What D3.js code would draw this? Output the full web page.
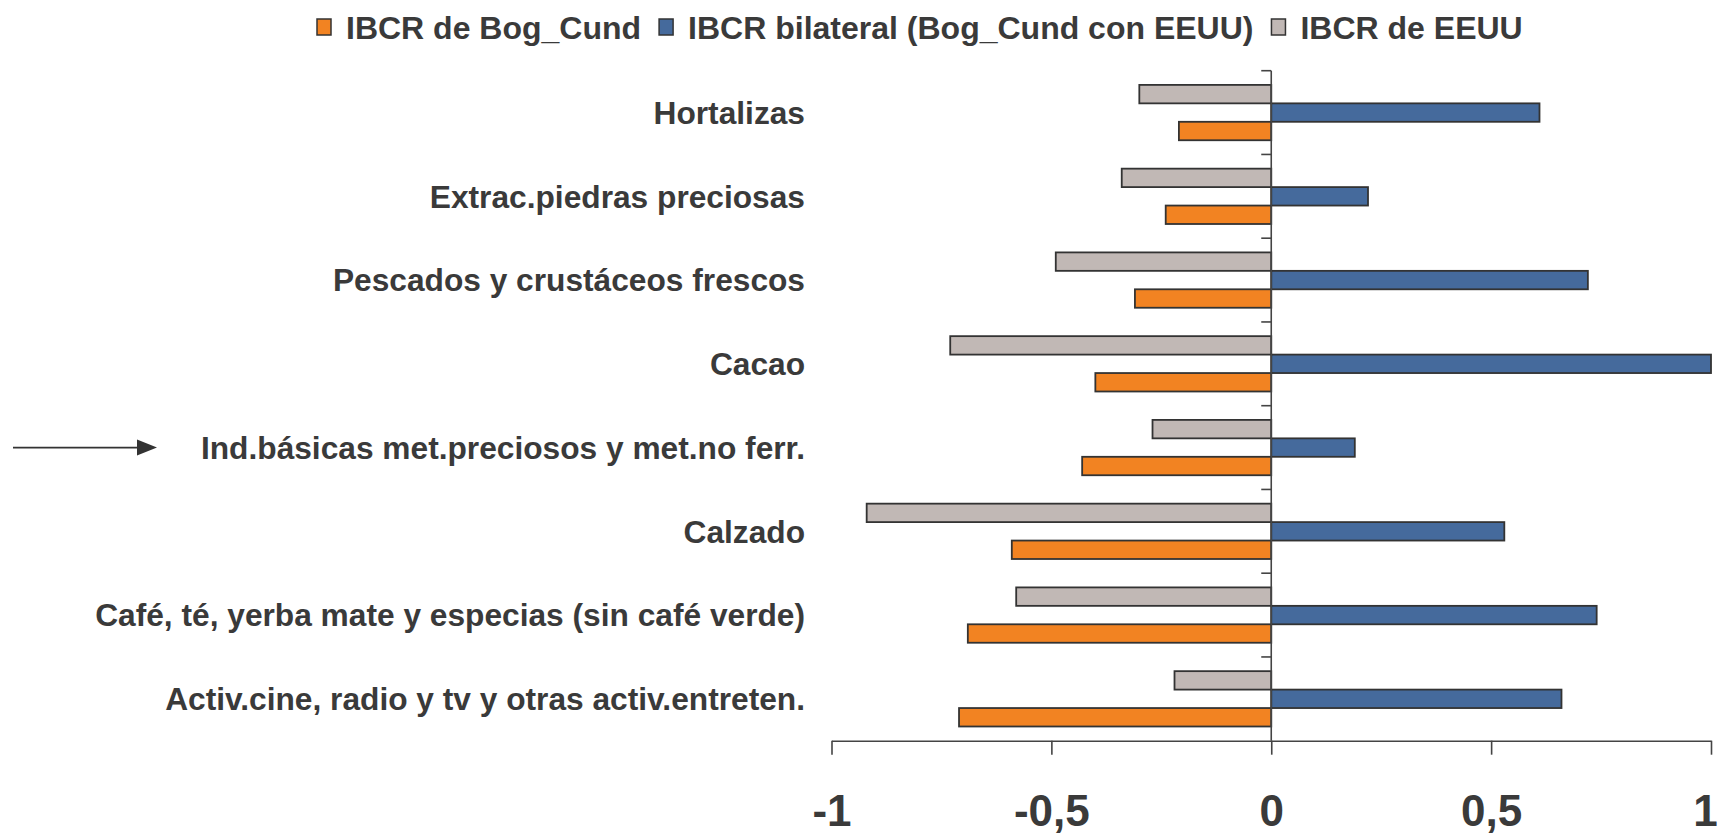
<!DOCTYPE html>
<html lang="es">
<head>
<meta charset="utf-8" />
<script src="https://d3js.org/d3.v7.min.js"></script>
<style>
  body { margin: 0; background: #fff; }
  svg text { font-family: "Liberation Sans", Arial, sans-serif; font-weight: bold; fill: #3a3a3a; }
  .bar { stroke: #333; stroke-width: 1.8px; }
  .axis path, .axis line { stroke: #444; stroke-width: 1.6px; }
</style>
</head>
<body>
<svg width="1722" height="835"></svg>
<script>
var categories = [
  "Hortalizas",
  "Extrac.piedras preciosas",
  "Pescados y crustáceos frescos",
  "Cacao",
  "Ind.básicas met.preciosos y met.no ferr.",
  "Calzado",
  "Café, té, yerba mate y especias (sin café verde)",
  "Activ.cine, radio y tv y otras activ.entreten."
];
var seriesNames = ["IBCR de Bog_Cund", "IBCR bilateral (Bog_Cund con EEUU)", "IBCR de EEUU"];
var seriesColors = ["#f28322", "#456a9c", "#c1b8b5"];
var ibcrBogCund = [-0.21, -0.24, -0.31, -0.40, -0.43, -0.59, -0.69, -0.71];
var ibcrBilateral = [0.61, 0.22, 0.72, 1.0, 0.19, 0.53, 0.74, 0.66];
var ibcrEEUU = [-0.30, -0.34, -0.49, -0.73, -0.27, -0.92, -0.58, -0.22];
var xTicks = [-1, -0.5, 0, 0.5, 1];
var highlighted = "Ind.básicas met.preciosos y met.no ferr.";

var svg = d3.select("svg");
var seriesValues = [ibcrBogCund, ibcrBilateral, ibcrEEUU];

var x = d3.scaleLinear().domain([-1, 1]).range([831.5, 1711]);
var y = d3.scaleBand().domain(categories).range([70.7, 740.7]);
// bar order inside each band, top to bottom: EEUU, bilateral, Bog_Cund
var sub = d3.scaleBand().domain([2, 1, 0]).range([0, y.bandwidth()]).paddingInner(0).paddingOuter(0.77);

var locale = d3.formatLocale({ decimal: ",", thousands: ".", grouping: [3], currency: ["$", ""], minus: "-" });
var fmt = locale.format("");

// bars
seriesValues.forEach(function(vals, s) {
  svg.append("g").selectAll("rect")
    .data(vals)
    .enter()
    .append("rect")
    .attr("class", "bar")
    .attr("fill", seriesColors[s])
    .attr("x", function(d) { return x(Math.min(0, d)); })
    .attr("width", function(d) { return Math.abs(x(d) - x(0)); })
    .attr("y", function(d, i) { return y(categories[i]) + sub(s); })
    .attr("height", sub.bandwidth());
});

// vertical axis at zero with short ticks between categories
var yAxis = svg.append("g").attr("class", "axis");
yAxis.append("line")
  .attr("x1", x(0)).attr("x2", x(0))
  .attr("y1", y.range()[0]).attr("y2", y.range()[1]);
yAxis.selectAll("line.tk")
  .data(categories.map(function(c) { return y(c); }))
  .enter()
  .append("line")
  .attr("class", "tk")
  .attr("x1", x(0) - 10).attr("x2", x(0))
  .attr("y1", function(d) { return d; })
  .attr("y2", function(d) { return d; });

// category labels
svg.append("g").selectAll("text")
  .data(categories)
  .enter()
  .append("text")
  .attr("x", 805)
  .attr("y", function(d) { return y(d) + y.bandwidth() / 2; })
  .attr("dy", "0.36em")
  .attr("text-anchor", "end")
  .style("font-size", "31.7px")
  .text(function(d) { return d; });

// arrow pointing at highlighted category
var ay = y(highlighted) + y.bandwidth() / 2;
svg.append("line")
  .attr("x1", 13).attr("x2", 140)
  .attr("y1", ay).attr("y2", ay)
  .attr("stroke", "#333").attr("stroke-width", 1.6);
svg.append("path")
  .attr("d", "M137," + (ay - 8) + "L157," + ay + "L137," + (ay + 8) + "Z")
  .attr("fill", "#333");

// x axis
var xAxis = svg.append("g")
  .attr("class", "axis")
  .attr("transform", "translate(0," + y.range()[1] + ")")
  .call(d3.axisBottom(x).tickValues(xTicks).tickSize(14).tickSizeOuter(0).tickPadding(40).tickFormat(fmt));
xAxis.selectAll("text").style("font-size", "44px").attr("fill", "#3a3a3a");
// keep the last label inside the picture
xAxis.selectAll("text").filter(function(d) { return d === 1; }).attr("dx", "-6");

// legend
var legend = svg.append("g");
var lx = 317;
seriesNames.forEach(function(name, s) {
  legend.append("rect")
    .attr("x", lx).attr("y", 19)
    .attr("width", 14).attr("height", 16)
    .attr("fill", seriesColors[s])
    .attr("stroke", "#333").attr("stroke-width", 1.5);
  var t = legend.append("text")
    .attr("x", lx + 29).attr("y", 27.5)
    .attr("dy", "0.36em")
    .style("font-size", "32px")
    .text(name);
  lx += 29 + t.node().getComputedTextLength() + 18;
});
</script>
</body>
</html>
